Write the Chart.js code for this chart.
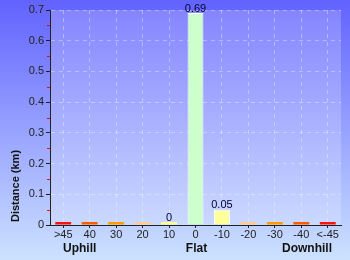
<!DOCTYPE html>
<html>
<head>
<meta charset="utf-8">
<script src="https://cdn.jsdelivr.net/npm/chart.js@4"></script>
<style>
  html, body { margin: 0; padding: 0; background: #fff; }
  #wrap { width: 350px; height: 260px; position: relative; }
</style>
</head>
<body>
<div id="wrap"><canvas id="chart" width="350" height="260"></canvas></div>
<script>
// datos del grafico
const categories = ['>45', '40', '30', '20', '10', '0', '-10', '-20', '-30', '-40', '<-45'];
const distances = [0, 0, 0, 0, 0, 0.69, 0.05, 0, 0, 0, 0];
const labelledBars = [4, 5, 6]; // barras con etiqueta de valor
const barColors = ['#ff1010', '#ff5a00', '#ff9a00', '#ffcc99', '#ffff99', '#ccffcc', '#ffff99', '#ffcc99', '#ff9a00', '#ff5a00', '#ff1010'];
const yTicks = [0, 0.1, 0.2, 0.3, 0.4, 0.5, 0.6, 0.7];
const groupLabels = ['Uphill', 'Flat', 'Downhill'];

const font = '"Liberation Sans", Arial, sans-serif';

// fondo degradado + zona del grafico
const backgroundPlugin = {
    id: 'fondo',
    beforeDraw(chart) {
        const ctx = chart.ctx;
        const a = chart.chartArea;
        const g = ctx.createLinearGradient(0, 0, 0, chart.height);
        g.addColorStop(0, '#6262ff');
        g.addColorStop(1, '#cce2ff');
        ctx.save();
        ctx.fillStyle = g;
        ctx.fillRect(0, 0, chart.width, chart.height);
        ctx.fillStyle = 'rgba(255,255,255,0.2)';
        ctx.fillRect(a.left, a.top, a.right - a.left, a.bottom - a.top);
        ctx.restore();
    },
    afterDraw(chart) {
        const ctx = chart.ctx;
        const y = chart.scales.y;
        const x = chart.scales.x;
        const a = chart.chartArea;
        ctx.save();
        // marcas menores en rojo
        ctx.strokeStyle = '#ff0000';
        ctx.lineWidth = 1;
        for (let i = 0; i < yTicks.length - 1; i++) {
            const py = Math.round(y.getPixelForValue((yTicks[i] + yTicks[i + 1]) / 2)) + 0.5;
            ctx.beginPath();
            ctx.moveTo(a.left - 3, py);
            ctx.lineTo(a.left, py);
            ctx.stroke();
        }
        // etiquetas de valor
        ctx.fillStyle = '#000033';
        ctx.font = '11px ' + font;
        ctx.textAlign = 'center';
        ctx.textBaseline = 'bottom';
        const meta = chart.getDatasetMeta(0);
        labelledBars.forEach(i => {
            const bar = meta.data[i];
            const txt = String(Number(distances[i].toFixed(2)));
            ctx.fillText(txt, bar.x, bar.y + 1);
        });
        // grupos del eje x
        ctx.fillStyle = '#111';
        ctx.font = 'bold 12px ' + font;
        ctx.textBaseline = 'middle';
        ctx.textAlign = 'left';
        ctx.fillText(groupLabels[0], 63, 249);
        ctx.textAlign = 'center';
        ctx.fillText(groupLabels[1], x.getPixelForValue(5) + 1, 249);
        ctx.textAlign = 'right';
        ctx.fillText(groupLabels[2], 332, 249);
        // titulo del eje y
        ctx.translate(16, 186);
        ctx.rotate(-Math.PI / 2);
        ctx.textAlign = 'center';
        ctx.font = 'bold 11px ' + font;
        ctx.fillText('Distance (km)', 0, 0);
        ctx.restore();
    }
};

window.onload = function () {
    const ctx = document.getElementById('chart').getContext('2d');
    new Chart(ctx, {
        type: 'bar',
        data: {
            labels: categories,
            datasets: [{
                data: distances,
                backgroundColor: barColors,
                borderColor: '#ffffff',
                borderWidth: c => (distances[c.dataIndex] > 0.01 ? 1 : 0),
                minBarLength: 3,
                barPercentage: 0.6,
                categoryPercentage: 1
            }]
        },
        options: {
            responsive: false,
            animation: false,
            layout: { padding: { top: 10, right: 9, left: 0, bottom: 0 } },
            plugins: { legend: { display: false }, tooltip: { enabled: false } },
            scales: {
                x: {
                    afterFit(s) { s.height = 35; },
                    grid: {
                        offset: false,
                        color: 'rgba(255,255,255,0.35)',
                        tickColor: '#222',
                        tickLength: 3
                    },
                    border: { color: '#222', width: 1, dash: [4, 4] },
                    ticks: { color: '#222', font: { size: 11, family: font }, padding: 0, maxRotation: 0 }
                },
                y: {
                    min: 0,
                    max: 0.7,
                    afterFit(s) { s.width = 50; },
                    afterBuildTicks(s) { s.ticks = yTicks.map(v => ({ value: v })); },
                    grid: {
                        color: 'rgba(255,255,255,0.35)',
                        tickColor: '#222',
                        tickLength: 4
                    },
                    border: { color: '#222', width: 1, dash: [4, 4] },
                    ticks: {
                        color: '#222',
                        font: { size: 11, family: font },
                        padding: 2,
                        callback: v => String(Number(v.toFixed(1)))
                    }
                }
            }
        },
        plugins: [backgroundPlugin]
    });
};
</script>
</body>
</html>
